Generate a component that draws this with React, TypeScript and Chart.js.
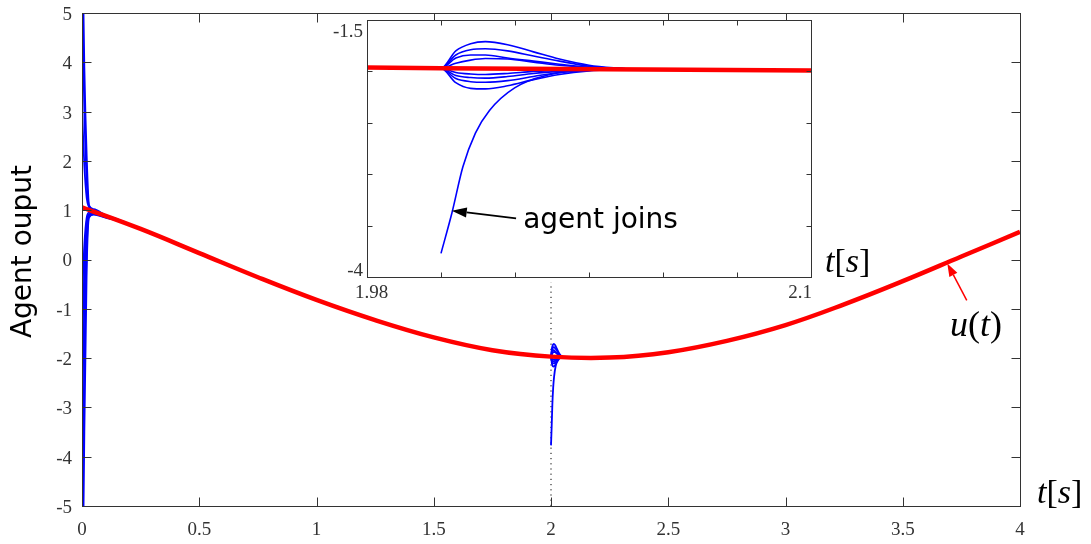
import React, { useEffect, useRef } from 'react';
import { Chart, registerables } from 'chart.js';

Chart.register(...registerables);

// Consensus signal u(t) (red)
const consensusT = [0, 0.25, 0.5, 0.75, 1, 1.25, 1.5, 1.75, 2, 2.25, 2.5, 2.75, 3, 3.25, 3.5, 3.75, 4];
const consensusU = [1.06, 0.62, 0.13, -0.36, -0.82, -1.23, -1.58, -1.84, -1.97, -1.99, -1.88, -1.65, -1.33, -0.91, -0.44, 0.06, 0.56];

// Initial transients of the 8 agents (t near 0)
const startT = [0, 0.01, 0.02, 0.03, 0.05, 0.1, 0.15, 0.25];
const agent1Start = [7.0, 3.9, 2.1, 1.1, 1.02, 0.9, 0.82, 0.62];
const agent2Start = [5.5, 3.0, 1.6, 1.08, 1.0, 0.89, 0.81, 0.62];
const agent3Start = [3.05, 1.9, 1.25, 1.06, 0.99, 0.89, 0.81, 0.62];
const agent4Start = [-0.85, 0.3, 0.85, 0.95, 0.95, 0.87, 0.8, 0.62];
const agent5Start = [-1.85, -0.2, 0.7, 0.92, 0.94, 0.87, 0.8, 0.62];
const agent6Start = [-3.2, -0.9, 0.5, 0.9, 0.93, 0.86, 0.79, 0.62];
const agent7Start = [-5.5, -2.0, 0.2, 0.88, 0.92, 0.86, 0.79, 0.62];
const agent8Start = [-8.0, -3.5, -0.2, 0.85, 0.91, 0.85, 0.79, 0.62];

// Transients of the 8 agents when the new agent joins (t = 2)
const joinT = [1.99, 2.0, 2.004, 2.008, 2.012, 2.018, 2.025, 2.032, 2.04, 2.05];
const agent1Join = [-1.966, -1.97, -1.8, -1.73, -1.71, -1.74, -1.81, -1.88, -1.94, -1.975];
const agent2Join = [-1.966, -1.97, -1.84, -1.79, -1.78, -1.8, -1.85, -1.9, -1.95, -1.975];
const agent3Join = [-1.966, -1.97, -1.87, -1.84, -1.84, -1.87, -1.9, -1.93, -1.96, -1.975];
const agent4Join = [-1.966, -1.97, -1.92, -1.89, -1.875, -1.88, -1.91, -1.94, -1.96, -1.975];
const agent5Join = [-1.966, -1.97, -2.01, -2.025, -2.03, -2.02, -2.0, -1.99, -1.98, -1.975];
const agent6Join = [-1.966, -1.97, -2.04, -2.06, -2.065, -2.05, -2.02, -2.0, -1.985, -1.975];
const agent7Join = [-1.966, -1.97, -2.07, -2.1, -2.105, -2.09, -2.05, -2.01, -1.99, -1.975];
const agent8Join = [-1.966, -1.97, -2.11, -2.165, -2.17, -2.14, -2.08, -2.03, -1.995, -1.975];

// The joining agent
const newAgentT = [2.0, 2.003, 2.0059, 2.0093, 2.0131, 2.0199, 2.0295, 2.0391, 2.0488];
const newAgentV = [-3.77, -3.37, -2.93, -2.6, -2.38, -2.16, -2.03, -1.985, -1.975];

// Dotted join marker
const joinTime = 2;
const joinLineV = [-5, -0.46];

// Tick labels
const mainXTicks = ['0', '0.5', '1', '1.5', '2', '2.5', '3', '3.5', '4'];
const mainYTicks = ['-5', '-4', '-3', '-2', '-1', '0', '1', '2', '3', '4', '5'];
const insetXTicks = ['1.98', '2.1'];
const insetYTicks = ['-1.5', '-4'];

const SERIF = '"Liberation Serif", "DejaVu Serif", serif';
const SANS = '"DejaVu Sans", "Liberation Sans", sans-serif';
const AXIS = '#333333';

type P = { x: number; y: number | null };
const mkPts = (ts: number[], vs: number[]): P[] => ts.map((t, i) => ({ x: t, y: vs[i] }));
const consensusPts = mkPts(consensusT, consensusU);

const agentStarts = [agent1Start, agent2Start, agent3Start, agent4Start, agent5Start, agent6Start, agent7Start, agent8Start];
const agentJoins = [agent1Join, agent2Join, agent3Join, agent4Join, agent5Join, agent6Join, agent7Join, agent8Join];

// each agent: start transient, gap (it rides on u(t), drawn by the red curve), join transient
const agentData: P[][] = agentStarts.map((s, k) => [
  ...mkPts(startT, s),
  { x: 1.0, y: null },
  ...mkPts(joinT, agentJoins[k]),
]);
const newAgentData: P[] = mkPts(newAgentT, newAgentV);

function buildDatasets(blueW: number, redW: number, withJoinLine: boolean) {
  const ds: any[] = [];
  ds.push({
    data: consensusPts,
    borderColor: '#ff0000',
    borderWidth: redW,
    showLine: true,
    pointRadius: 0,
    tension: 0.4,
    order: 0,
  });
  [...agentData, newAgentData].forEach((d) => {
    ds.push({
      data: d,
      borderColor: '#0000ff',
      borderWidth: blueW,
      showLine: true,
      spanGaps: false,
      pointRadius: 0,
      cubicInterpolationMode: 'monotone',
      order: 1,
    });
  });
  if (withJoinLine) {
    ds.push({
      data: joinLineV.map((v) => ({ x: joinTime, y: v })),
      borderColor: '#000000',
      borderWidth: 1,
      borderDash: [1.2, 4],
      showLine: true,
      pointRadius: 0,
      order: 2,
    });
  }
  return ds;
}

function drawMath(ctx: CanvasRenderingContext2D, parts: [string, boolean][], x: number, y: number, size: number, color: string, center: boolean) {
  ctx.save();
  ctx.fillStyle = color;
  ctx.textBaseline = 'alphabetic';
  ctx.textAlign = 'left';
  const widths = parts.map(([t, it]) => {
    ctx.font = `${it ? 'italic ' : ''}${size}px ${SERIF}`;
    return ctx.measureText(t).width;
  });
  const total = widths.reduce((a, b) => a + b, 0);
  let cx = center ? x - total / 2 : x;
  parts.forEach(([t, it], i) => {
    ctx.font = `${it ? 'italic ' : ''}${size}px ${SERIF}`;
    ctx.fillText(t, cx, y);
    cx += widths[i];
  });
  ctx.restore();
}

function arrow(ctx: CanvasRenderingContext2D, x1: number, y1: number, x2: number, y2: number, color: string, lw: number, hl: number, hw: number) {
  const ang = Math.atan2(y2 - y1, x2 - x1);
  const bx = x2 - hl * Math.cos(ang);
  const by = y2 - hl * Math.sin(ang);
  ctx.save();
  ctx.strokeStyle = color;
  ctx.fillStyle = color;
  ctx.lineWidth = lw;
  ctx.beginPath();
  ctx.moveTo(x1, y1);
  ctx.lineTo(bx, by);
  ctx.stroke();
  ctx.beginPath();
  ctx.moveTo(x2, y2);
  ctx.lineTo(bx + (hw / 2) * Math.sin(ang), by - (hw / 2) * Math.cos(ang));
  ctx.lineTo(bx - (hw / 2) * Math.sin(ang), by + (hw / 2) * Math.cos(ang));
  ctx.closePath();
  ctx.fill();
  ctx.restore();
}

function drawBoxTicks(chart: any, len: number) {
  const { ctx, chartArea: a, scales } = chart;
  ctx.save();
  ctx.strokeStyle = AXIS;
  ctx.lineWidth = 1;
  const L = Math.round(a.left) + 0.5;
  const R = Math.round(a.right) + 0.5;
  const T = Math.round(a.top) + 0.5;
  const B = Math.round(a.bottom) + 0.5;
  ctx.strokeRect(L, T, R - L, B - T);
  ctx.beginPath();
  scales.x.ticks.forEach((t: any) => {
    const px = Math.round(scales.x.getPixelForValue(t.value)) + 0.5;
    ctx.moveTo(px, B);
    ctx.lineTo(px, B - len);
    ctx.moveTo(px, T);
    ctx.lineTo(px, T + len);
  });
  scales.y.ticks.forEach((t: any) => {
    const py = Math.round(scales.y.getPixelForValue(t.value)) + 0.5;
    ctx.moveTo(L, py);
    ctx.lineTo(L + len, py);
    ctx.moveTo(R, py);
    ctx.lineTo(R - len, py);
  });
  ctx.stroke();
  ctx.restore();
}

const mainDecor = {
  id: 'mainDecor',
  afterDraw(chart: any) {
    const { ctx, chartArea: a, scales } = chart;
    const x = scales.x;
    const y = scales.y;
    drawBoxTicks(chart, 9);
    ctx.save();
    ctx.fillStyle = AXIS;
    ctx.font = `19px ${SERIF}`;
    ctx.textAlign = 'center';
    ctx.textBaseline = 'alphabetic';
    x.ticks.forEach((t: any, i: number) => {
      ctx.fillText(mainXTicks[i] ?? '', x.getPixelForValue(t.value), a.bottom + 29);
    });
    ctx.textAlign = 'right';
    ctx.textBaseline = 'middle';
    y.ticks.forEach((t: any, i: number) => {
      ctx.fillText(mainYTicks[i] ?? '', a.left - 10, y.getPixelForValue(t.value) + 2);
    });
    // y title
    ctx.save();
    ctx.translate(31, (a.top + a.bottom) / 2 - 8);
    ctx.rotate(-Math.PI / 2);
    ctx.fillStyle = '#000';
    ctx.font = `28px ${SANS}`;
    ctx.textAlign = 'center';
    ctx.textBaseline = 'alphabetic';
    ctx.fillText('Agent ouput', 0, 0);
    ctx.restore();
    ctx.restore();
    // t[s]
    drawMath(ctx, [['t', true], ['[', false], ['s', true], [']', false]], a.right + 17, a.bottom - 3, 34, '#000', false);
    // u(t) label and arrow
    arrow(ctx, x.getPixelForValue(3.773), y.getPixelForValue(-0.83), x.getPixelForValue(3.69), y.getPixelForValue(-0.08), '#ff0000', 1.5, 13, 9);
    drawMath(ctx, [['u', true], ['(', false], ['t', true], [')', false]], x.getPixelForValue(3.812), y.getPixelForValue(-1.56), 36, '#000', true);
  },
};

const insetDecor = {
  id: 'insetDecor',
  beforeDraw(chart: any) {
    const { ctx, chartArea: a } = chart;
    ctx.save();
    ctx.fillStyle = '#ffffff';
    ctx.fillRect(a.left, a.top, a.right - a.left, a.bottom - a.top);
    ctx.restore();
  },
  afterDraw(chart: any) {
    const { ctx, chartArea: a, scales } = chart;
    const x = scales.x;
    const y = scales.y;
    drawBoxTicks(chart, 5);
    ctx.save();
    ctx.fillStyle = AXIS;
    ctx.font = `19px ${SERIF}`;
    ctx.textBaseline = 'alphabetic';
    ctx.textAlign = 'left';
    ctx.fillText(insetXTicks[0], a.left - 12, a.bottom + 21);
    ctx.textAlign = 'right';
    ctx.fillText(insetXTicks[1], a.right + 1, a.bottom + 21);
    ctx.fillText(insetYTicks[0], a.left - 4, a.top + 17);
    ctx.fillText(insetYTicks[1], a.left - 4, a.bottom - 1);
    ctx.restore();
    // agent joins
    arrow(ctx, x.getPixelForValue(2.0203), y.getPixelForValue(-3.43), x.getPixelForValue(2.0029), y.getPixelForValue(-3.355), '#000', 1.8, 15, 10);
    ctx.save();
    ctx.fillStyle = '#000';
    ctx.font = `28px ${SANS}`;
    ctx.textAlign = 'left';
    ctx.textBaseline = 'alphabetic';
    ctx.fillText('agent joins', x.getPixelForValue(2.0222), y.getPixelForValue(-3.52));
    ctx.restore();
    drawMath(ctx, [['t', true], ['[', false], ['s', true], [']', false]], a.right + 14, a.bottom - 5, 34, '#000', false);
  },
};

function axisOpts(min: number, max: number, step: number, fit: (s: any) => void) {
  return {
    type: 'linear' as const,
    min,
    max,
    ticks: { stepSize: step, display: false, autoSkip: false },
    grid: { display: false, drawTicks: false },
    border: { display: false },
    afterFit: fit,
  };
}

export default function App() {
  const mainRef = useRef<HTMLCanvasElement>(null);
  const insetRef = useRef<HTMLCanvasElement>(null);

  useEffect(() => {
    document.body.style.margin = '0';
    const main = new Chart(mainRef.current as HTMLCanvasElement, {
      type: 'scatter',
      data: { datasets: buildDatasets(1.8, 4.5, true) },
      options: {
        animation: false,
        responsive: false,
        maintainAspectRatio: false,
        events: [],
        layout: { padding: { top: 13, right: 71, left: 0, bottom: 0 } },
        plugins: { legend: { display: false }, tooltip: { enabled: false } },
        scales: {
          x: axisOpts(0, 4, 0.5, (s: any) => { s.height = 38; }),
          y: axisOpts(-5, 5, 1, (s: any) => { s.width = 82; }),
        },
      } as any,
      plugins: [mainDecor],
    });
    const inset = new Chart(insetRef.current as HTMLCanvasElement, {
      type: 'scatter',
      data: { datasets: buildDatasets(1.6, 4.5, false) },
      options: {
        animation: false,
        responsive: false,
        maintainAspectRatio: false,
        events: [],
        layout: { padding: { top: 20, right: 89, left: 0, bottom: 0 } },
        plugins: { legend: { display: false }, tooltip: { enabled: false } },
        scales: {
          x: axisOpts(1.98, 2.1, 0.02, (s: any) => { s.height = 23; }),
          y: axisOpts(-4, -1.5, 0.5, (s: any) => { s.width = 67; }),
        },
      } as any,
      plugins: [insetDecor],
    });
    return () => {
      main.destroy();
      inset.destroy();
    };
  }, []);

  return (
    <div style={{ position: 'relative', width: 1091, height: 544, background: '#ffffff' }}>
      <canvas ref={mainRef} width={1091} height={544} style={{ position: 'absolute', left: 0, top: 0, width: 1091, height: 544 }} />
      <canvas ref={insetRef} width={600} height={300} style={{ position: 'absolute', left: 300, top: 0, width: 600, height: 300 }} />
    </div>
  );
}
